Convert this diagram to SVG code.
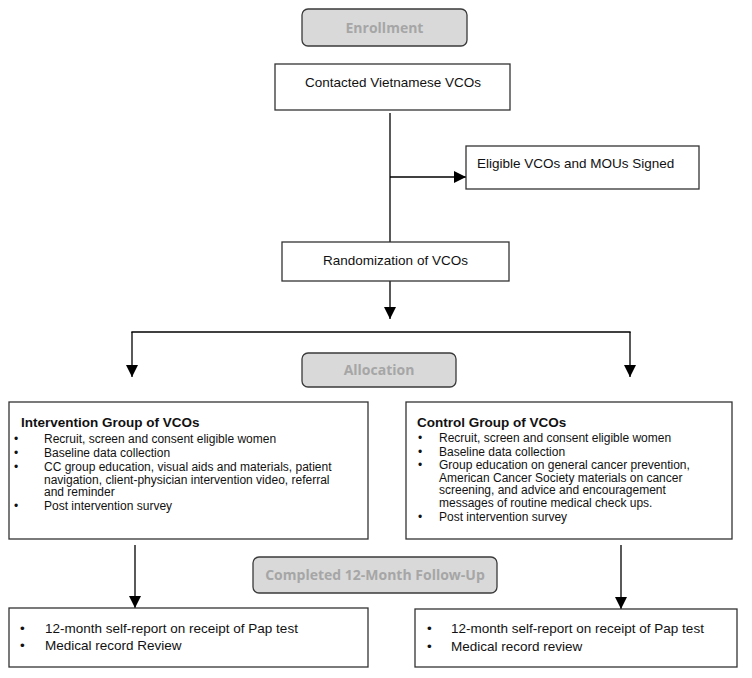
<svg xmlns="http://www.w3.org/2000/svg" width="752" height="678" viewBox="0 0 752 678">
<style>
.box{fill:#fff;stroke:#333;stroke-width:1.3}
.stage{fill:#d9d9d9;stroke:#3a3a3a;stroke-width:1.3}
.stxt{font-family:"Open Sans",sans-serif;font-weight:bold;font-size:14px;fill:#a6a6a6;text-anchor:middle}
.t{font-family:"Liberation Sans",Arial,sans-serif;font-size:13.5px;fill:#111}
.s{font-family:"Liberation Sans",Arial,sans-serif;font-size:12px;fill:#111}
.b{font-family:"Liberation Sans",Arial,sans-serif;font-size:13.5px;font-weight:bold;fill:#111}
.c{text-anchor:middle}
.ln{fill:none;stroke:#000;stroke-width:1.3}
</style>
<defs>
<marker id="ah" markerUnits="userSpaceOnUse" markerWidth="14" markerHeight="14" refX="12" refY="6" orient="auto">
<path d="M0,0 L12,6 L0,12 Z" fill="#000"/>
</marker>
</defs>
<g id="connectors">
<line class="ln" x1="390" y1="113" x2="390" y2="242"/>
<line class="ln" x1="390" y1="177" x2="466" y2="177" marker-end="url(#ah)"/>
<line class="ln" x1="390" y1="281" x2="390" y2="319" marker-end="url(#ah)"/>
<line class="ln" x1="131.35" y1="332" x2="630.65" y2="332"/>
<line class="ln" x1="132" y1="332" x2="132" y2="377" marker-end="url(#ah)"/>
<line class="ln" x1="630" y1="332" x2="630" y2="377" marker-end="url(#ah)"/>
<line class="ln" x1="135" y1="545" x2="135" y2="608" marker-end="url(#ah)"/>
<line class="ln" x1="621" y1="545" x2="621" y2="609" marker-end="url(#ah)"/>
</g>
<g id="enrollment">
<rect class="stage" x="302" y="9" width="165" height="37" rx="6"/>
<text class="stxt" x="384.5" y="32.5">Enrollment</text>
</g>
<g id="contacted">
<rect class="box" x="275" y="64" width="235" height="46"/>
<text class="t c" x="393" y="87">Contacted Vietnamese VCOs</text>
</g>
<g id="eligible">
<rect class="box" x="466" y="146" width="233" height="43"/>
<text class="t" x="477" y="168">Eligible VCOs and MOUs Signed</text>
</g>
<g id="randomization">
<rect class="box" x="282" y="242" width="227" height="39"/>
<text class="t c" x="395.5" y="265">Randomization of VCOs</text>
</g>
<g id="allocation">
<rect class="stage" x="302" y="353" width="154" height="34" rx="6"/>
<text class="stxt" x="379" y="375">Allocation</text>
</g>
<g id="intervention">
<rect class="box" x="9" y="402" width="359" height="137"/>
<text class="b" x="21" y="427">Intervention Group of VCOs</text>
<text class="s" x="14" y="443">•</text><text class="s" x="44" y="443">Recruit, screen and consent eligible women</text>
<text class="s" x="14" y="457">•</text><text class="s" x="44" y="457">Baseline data collection</text>
<text class="s" x="14" y="471">•</text><text class="s" x="44" y="471">CC group education, visual aids and materials, patient</text>
<text class="s" x="44" y="483.5">navigation, client-physician intervention video, referral</text>
<text class="s" x="44" y="496">and reminder</text>
<text class="s" x="14" y="510">•</text><text class="s" x="44" y="510">Post intervention survey</text>
</g>
<g id="control">
<rect class="box" x="406" y="402" width="326" height="137"/>
<text class="b" x="417" y="427">Control Group of VCOs</text>
<text class="s" x="418" y="442">•</text><text class="s" x="439" y="442">Recruit, screen and consent eligible women</text>
<text class="s" x="418" y="455.5">•</text><text class="s" x="439" y="455.5">Baseline data collection</text>
<text class="s" x="418" y="469">•</text><text class="s" x="439" y="469">Group education on general cancer prevention,</text>
<text class="s" x="439" y="481.5">American Cancer Society materials on cancer</text>
<text class="s" x="439" y="494">screening, and advice and encouragement</text>
<text class="s" x="439" y="506.5">messages of routine medical check ups.</text>
<text class="s" x="418" y="521">•</text><text class="s" x="439" y="521">Post intervention survey</text>
</g>
<g id="followup">
<rect class="stage" x="253" y="557" width="244" height="36" rx="6"/>
<text class="stxt" x="375" y="580">Completed 12-Month Follow-Up</text>
</g>
<g id="result-intervention">
<rect class="box" x="9" y="608" width="359" height="59"/>
<text class="t" x="20" y="633">•</text><text class="t" x="45" y="633">12-month self-report on receipt of Pap test</text>
<text class="t" x="20" y="650">•</text><text class="t" x="45" y="650">Medical record Review</text>
</g>
<g id="result-control">
<rect class="box" x="415" y="609" width="322" height="58"/>
<text class="t" x="427" y="633">•</text><text class="t" x="451" y="633">12-month self-report on receipt of Pap test</text>
<text class="t" x="427" y="651">•</text><text class="t" x="451" y="651">Medical record review</text>
</g>
</svg>
